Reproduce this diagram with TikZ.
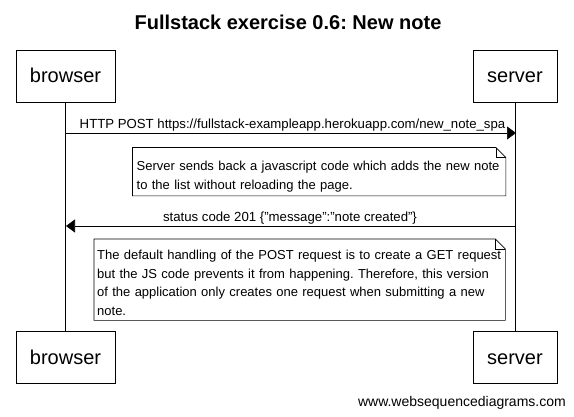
\documentclass[tikz,border=0pt]{standalone}
\usepackage{fontspec}
\setmainfont{Liberation Sans}
\usetikzlibrary{arrows.meta,positioning}
\frenchspacing
\tikzstyle{actor}=[draw,minimum height=52pt,inner sep=0pt,text height=17pt,text depth=4pt,font=\fontsize{20}{24}\selectfont]
\tikzstyle{lifeline}=[draw,line width=0.6pt]
\tikzstyle{msg}=[draw,line width=0.6pt,-{Triangle[length=9pt,width=13pt]}]
\tikzstyle{msgtext}=[inner sep=0pt,anchor=base,font=\fontsize{13.2}{15}\selectfont]
\tikzstyle{note}=[anchor=north west,align=left,inner xsep=4pt,inner ysep=0pt,font=\fontsize{13}{18.7}\selectfont]
\tikzstyle{notefold}=[line width=0.6pt]
% note outline round a node, lifted by #2
\newcommand{\noteframe}[2]{%
  \draw[notefold] ([yshift=#2]#1.north west) -- ([xshift=-10pt,yshift=#2]#1.north east) -- ([yshift=#2-10pt]#1.north east)
    -- ([yshift=#2]#1.south east) -- ([yshift=#2]#1.south west) -- cycle;
  \draw[notefold] ([xshift=-10pt,yshift=#2]#1.north east) |- ([yshift=#2-10pt]#1.north east);}

\begin{document}
\begin{tikzpicture}[x=1pt,y=-1pt]
  \useasboundingbox (0,0) rectangle (574,416);
  \node[font=\bfseries\fontsize{20}{24}\selectfont] (title) at (288,22) {Fullstack exercise 0.6: New note};

  % actors, top and bottom
  \node[actor,minimum width=99pt] (b1) at (65.5,76) {browser};
  \node[actor,minimum width=84pt] (s1) at (515,76) {server};
  \node[actor,minimum width=99pt] (b2) at (65.5,357.5) {browser};
  \node[actor,minimum width=84pt] (s2) at (515,357.5) {server};

  \path[lifeline] (b1) -- (b2)
    (s1) -- (s2);

  % POST request
  \coordinate (p1) at (66,133);
  \coordinate (p2) at (516,133);
  \path[msg] (p1) -- (p2);
  \node[msgtext] (m1) at (292.5,128) {HTTP POST https://fullstack-exampleapp.herokuapp.com/new\_note\_spa};

  % first note
  \node[note,text width=365pt,minimum height=48pt] (n1) at (132.5,152.5)
    {Server sends back a javascript code which adds the new note\\to the list without reloading the page.};
  \noteframe{n1}{5pt}

  % response
  \coordinate (r1) at (516,226);
  \coordinate (r2) at (66,226);
  \path[msg] (r1) -- (r2);
  \node[msgtext] (m2) at (290,221.7) {status code 201 \{"message":"note created"\}};

  % second note
  \node[note,inner xsep=3pt,text width=405pt,minimum height=81pt] (n2) at (94,242)
    {The default handling of the POST request is to create a GET request\\but the JS code prevents it from happening. Therefore, this version\\of the application only creates one request when submitting a new\\note.};
  \noteframe{n2}{3pt}

  \node[anchor=base east,inner sep=0pt,font=\fontsize{14}{16}\selectfont] (wsd) at (566,406) {www.websequencediagrams.com};
\end{tikzpicture}
\end{document}
